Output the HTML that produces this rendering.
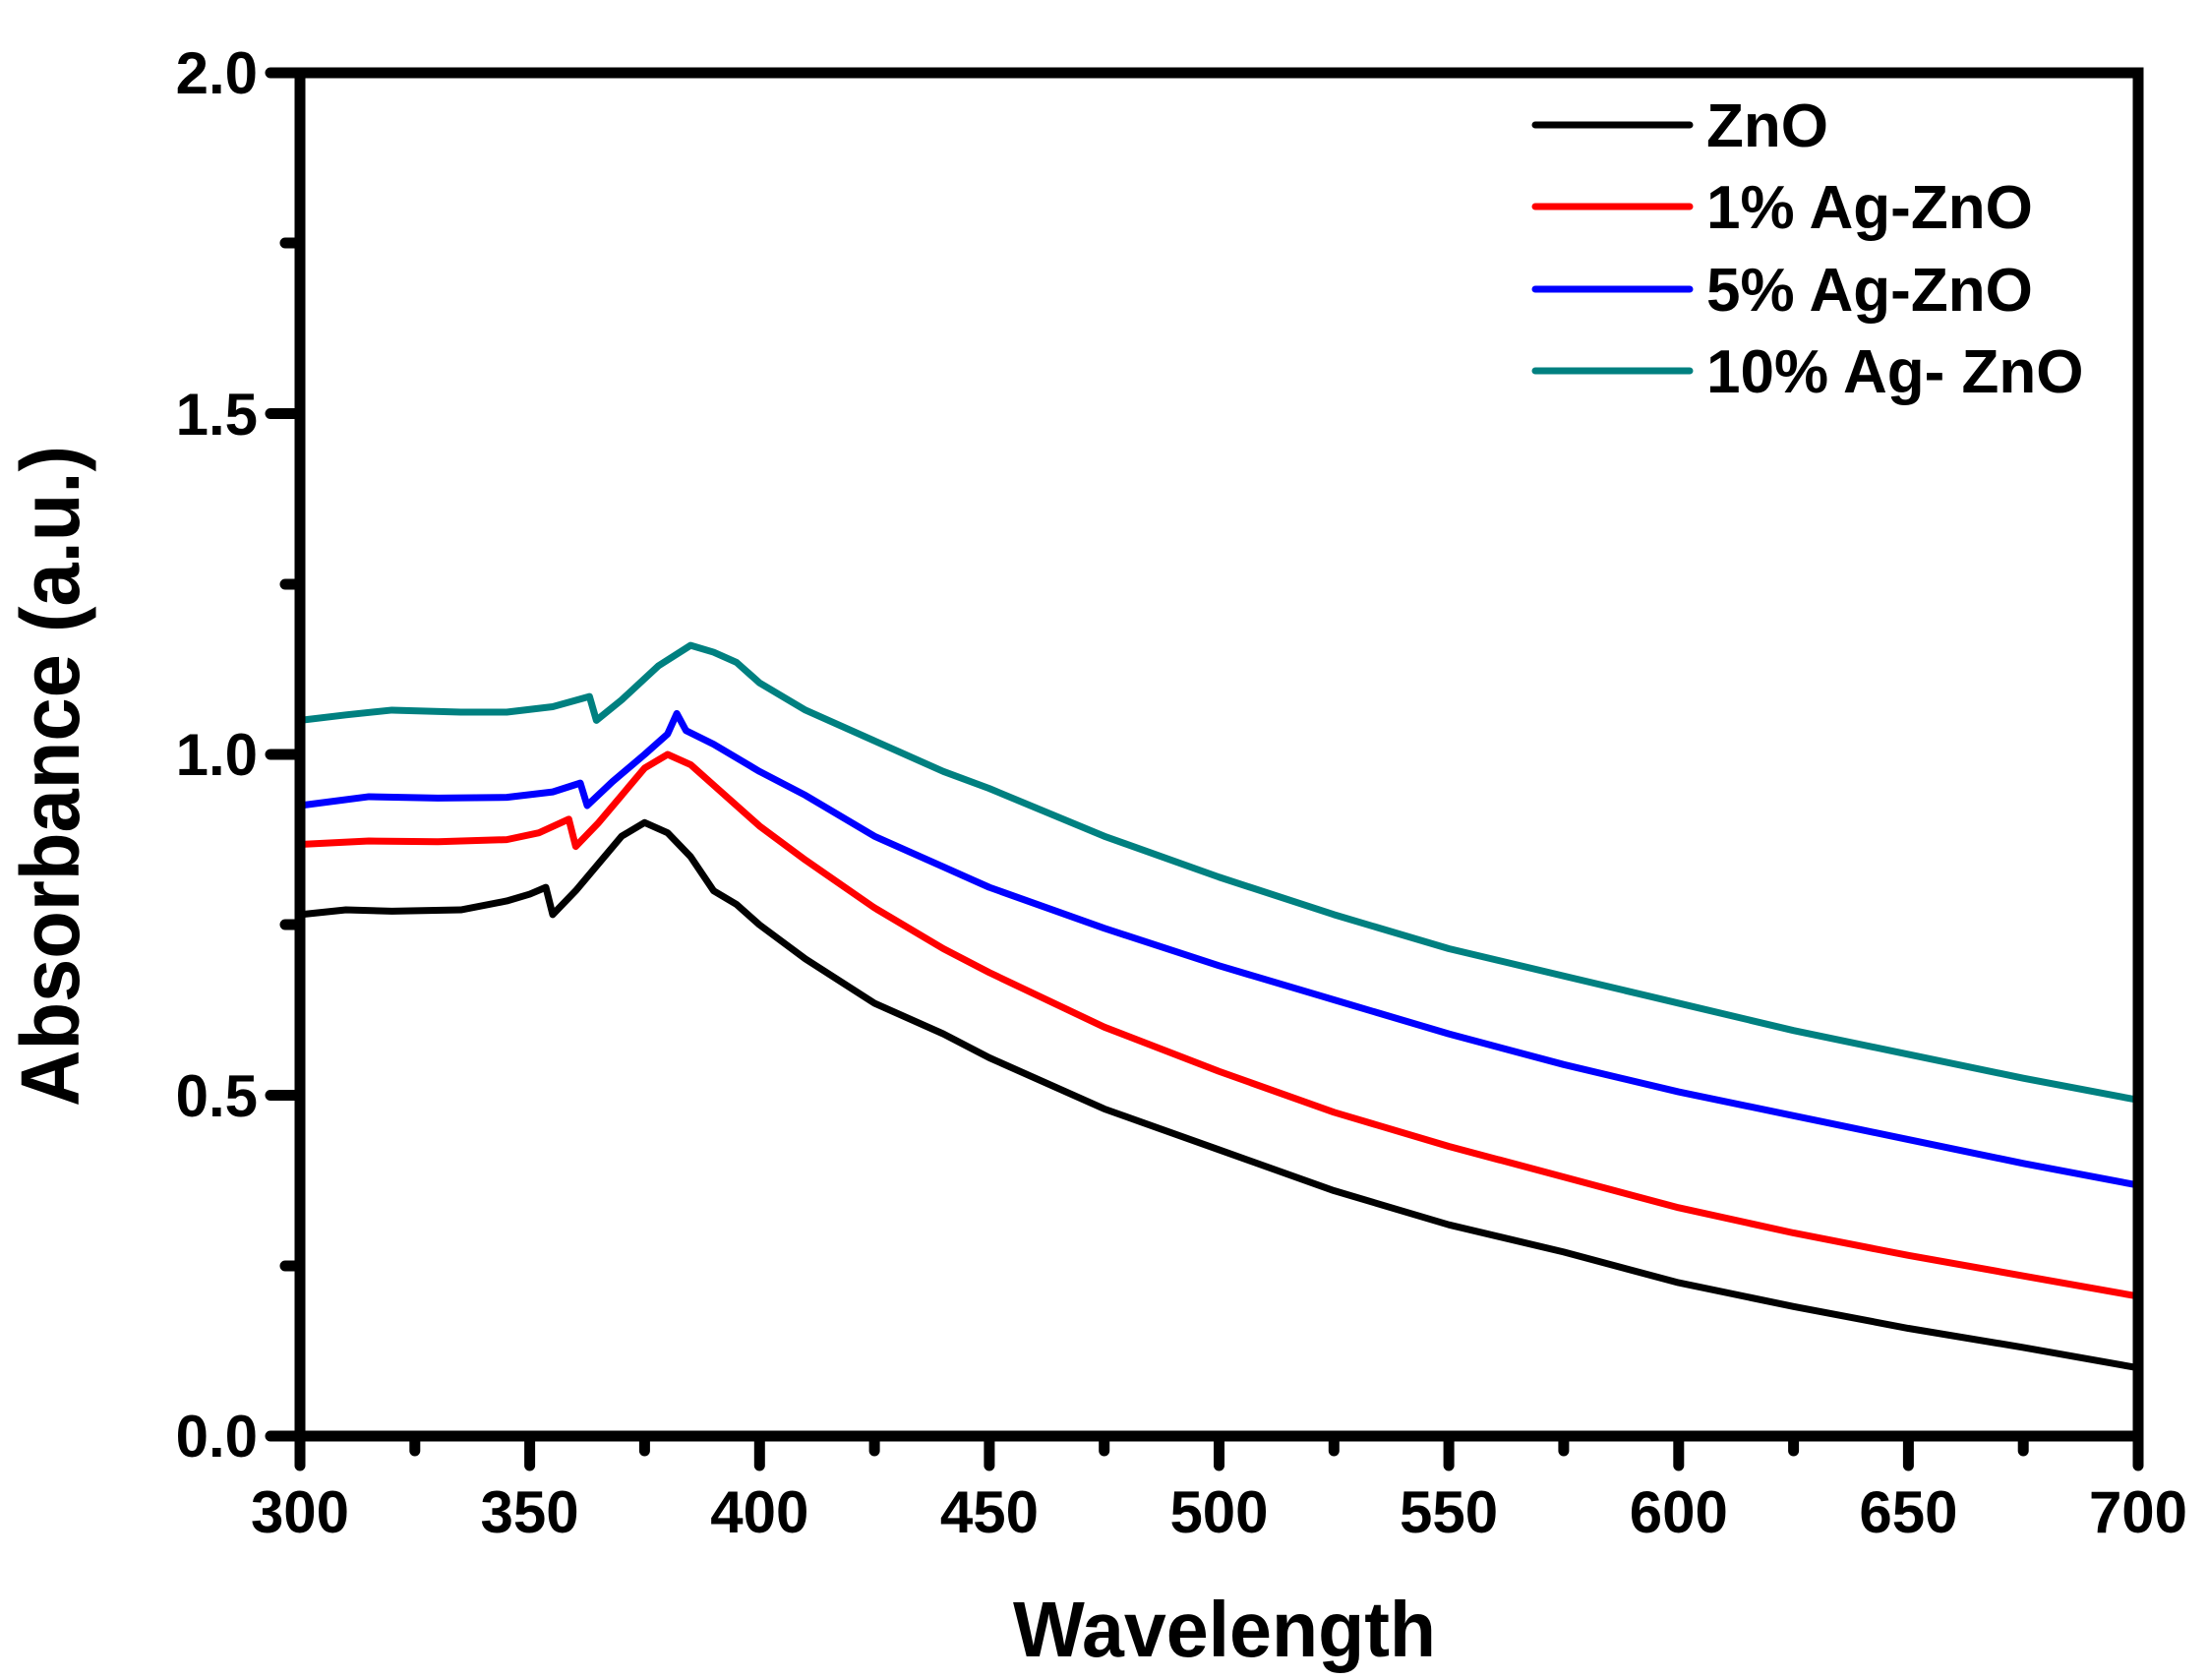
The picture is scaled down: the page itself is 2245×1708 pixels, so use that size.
<!DOCTYPE html>
<html><head><meta charset="utf-8"><style>
html,body{margin:0;padding:0;background:#fff;}
svg{display:block;}
text{font-family:"Liberation Sans",Arial,sans-serif;font-weight:bold;fill:#000;}
</style></head><body>
<svg width="2245" height="1708" viewBox="0 0 2245 1708" xmlns="http://www.w3.org/2000/svg">
<g fill="none" stroke-linejoin="round" stroke-width="7" transform="translate(305,1460) scale(4.6725,-693) translate(-300,0)">
<polyline vector-effect="non-scaling-stroke" stroke="#000" points="300,0.765 310,0.772 320,0.77 335,0.772 345,0.785 350,0.795 353.5,0.805 355,0.765 360,0.8 365,0.84 370,0.88 375,0.9 380,0.885 385,0.85 390,0.80 395,0.78 400,0.75 410,0.70 425,0.635 440,0.59 450,0.555 475,0.48 500,0.42 525,0.36 550,0.31 575,0.27 600,0.225 625,0.19 650,0.158 675,0.13 700,0.1"/>
<polyline vector-effect="non-scaling-stroke" stroke="#ff0000" points="300,0.868 315,0.873 330,0.872 345,0.875 352,0.885 358.5,0.905 360,0.865 365,0.9 370,0.94 375,0.98 380,1.0 385,0.985 390,0.955 400,0.895 410,0.845 425,0.775 440,0.715 450,0.68 475,0.60 500,0.535 525,0.475 550,0.425 575,0.38 600,0.335 625,0.298 650,0.265 675,0.235 700,0.205"/>
<polyline vector-effect="non-scaling-stroke" stroke="#0000ff" points="300,0.925 315,0.938 330,0.936 345,0.937 355,0.945 361,0.958 362.5,0.925 368,0.96 375,1.0 380,1.03 382,1.06 384,1.035 390,1.015 400,0.975 410,0.94 425,0.88 440,0.835 450,0.805 475,0.745 500,0.69 525,0.64 550,0.59 575,0.545 600,0.505 625,0.47 650,0.435 675,0.4 700,0.368"/>
<polyline vector-effect="non-scaling-stroke" stroke="#008080" points="300,1.05 310,1.058 320,1.065 335,1.062 345,1.062 355,1.07 363,1.085 364.5,1.05 370,1.08 378,1.13 385,1.16 390,1.15 395,1.135 400,1.105 410,1.065 425,1.02 440,0.975 450,0.95 475,0.88 500,0.82 525,0.765 550,0.715 575,0.675 600,0.635 625,0.595 650,0.56 675,0.525 700,0.493"/>
</g>
<g stroke="#000" stroke-width="11" stroke-linecap="round" fill="none">
<polyline stroke-linecap="butt" points="305,74 2174,74 2174,1460 305,1460 305,74" stroke-linejoin="miter"/>
<path d="M275,74H305M275,420.5H305M275,767H305M275,1113.5H305M275,1460H305"/>
<path d="M290,247H305M290,594H305M290,940H305M290,1287H305"/>
<path d="M305,1460V1490M538.6,1460V1490M772.3,1460V1490M1005.9,1460V1490M1239.5,1460V1490M1473.1,1460V1490M1706.8,1460V1490M1940.4,1460V1490M2174,1460V1490"/>
<path d="M421.8,1460V1475M655.4,1460V1475M889.1,1460V1475M1122.7,1460V1475M1356.3,1460V1475M1589.9,1460V1475M1823.6,1460V1475M2057.2,1460V1475"/>
</g>
<g stroke-width="7" stroke-linecap="round">
<line x1="1561" y1="127" x2="1718" y2="127" stroke="#000"/>
<line x1="1561" y1="210" x2="1718" y2="210" stroke="#ff0000"/>
<line x1="1561" y1="294" x2="1718" y2="294" stroke="#0000ff"/>
<line x1="1561" y1="377" x2="1718" y2="377" stroke="#008080"/>
</g>
<g font-size="62">
<text x="1735" y="149">ZnO</text>
<text x="1735" y="232">1% Ag-ZnO</text>
<text x="1735" y="316">5% Ag-ZnO</text>
<text x="1735" y="399">10% Ag- ZnO</text>
</g>
<g font-size="60" text-anchor="end">
<text x="262" y="95">2.0</text>
<text x="262" y="442">1.5</text>
<text x="262" y="788">1.0</text>
<text x="262" y="1135">0.5</text>
<text x="262" y="1481">0.0</text>
</g>
<g font-size="60" text-anchor="middle">
<text x="305" y="1558">300</text>
<text x="538.6" y="1558">350</text>
<text x="772.3" y="1558">400</text>
<text x="1005.9" y="1558">450</text>
<text x="1239.5" y="1558">500</text>
<text x="1473.1" y="1558">550</text>
<text x="1706.8" y="1558">600</text>
<text x="1940.4" y="1558">650</text>
<text x="2174" y="1558">700</text>
</g>
<text x="1245" y="1684" font-size="80" text-anchor="middle" textLength="430" lengthAdjust="spacingAndGlyphs">Wavelength</text>
<text transform="translate(80,1125) rotate(-90)" font-size="84" textLength="672" lengthAdjust="spacingAndGlyphs">Absorbance (a.u.)</text>
</svg>
</body></html>
